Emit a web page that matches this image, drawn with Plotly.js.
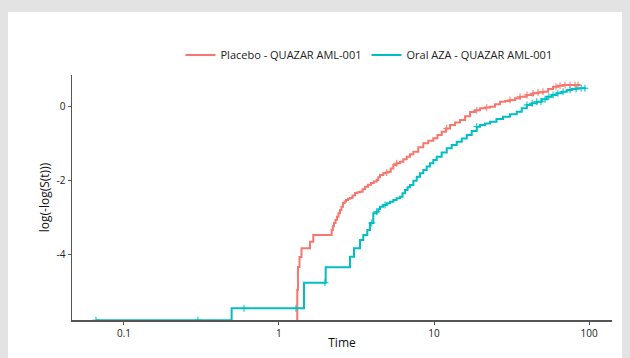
<!DOCTYPE html>
<html>
<head>
<meta charset="utf-8">
<script src="https://cdn.plot.ly/plotly-3.0.1.min.js"></script>
<style>html,body{margin:0;padding:0;background:#e3e3e3;}#chart{width:630px;height:358px;}</style>
</head>
<body>
<div id="chart"></div>
<script>
// -Inf (S(t)=1) is drawn at the lower panel edge, as ggplot does
const BOTTOM = -5.76;

const placeboTime = [1.306, 1.312, 1.326, 1.356, 1.397, 1.585, 1.664, 2.188, 2.226, 2.264, 2.315, 2.367, 2.42, 2.475, 2.53, 2.588, 2.65, 2.706, 2.79, 2.871, 2.98, 3.093, 3.21, 3.332, 3.46, 3.588, 3.75, 3.923, 4.09, 4.268, 4.37, 4.483, 4.709, 4.89, 5.073, 5.26, 5.464, 5.74, 6.034, 6.34, 6.667, 7.0, 7.355, 7.92, 8.531, 9.19, 9.897, 10.53, 11.21, 11.93, 12.69, 13.67, 14.72, 15.86, 17.08, 18.4, 19.81, 21.3, 22.98, 24.75, 26.66, 28.7, 30.93, 33.3, 35.88, 39.5, 43.52, 46.9, 50.49, 54.4, 58.58, 63.1, 67.96, 87.5];
const placeboValue = [BOTTOM, -4.946, -4.326, -4.057, -3.822, -3.644, -3.464, -3.329, -3.23, -3.140, -3.05, -2.970, -2.88, -2.790, -2.70, -2.601, -2.56, -2.520, -2.49, -2.466, -2.40, -2.332, -2.31, -2.296, -2.23, -2.162, -2.11, -2.062, -2.02, -1.981, -1.91, -1.846, -1.801, -1.78, -1.757, -1.67, -1.577, -1.53, -1.488, -1.42, -1.353, -1.29, -1.218, -1.10, -0.992, -0.92, -0.857, -0.77, -0.679, -0.59, -0.499, -0.43, -0.364, -0.26, -0.148, -0.10, -0.049, -0.03, -0.005, 0.06, 0.129, 0.15, 0.175, 0.22, 0.264, 0.31, 0.356, 0.38, 0.399, 0.47, 0.534, 0.56, 0.580, 0.580];
const placeboCensor = [4.953, 5.745, 12.08, 18.86, 21.88, 30.93, 35.88, 39.8, 43.52, 46.9, 50.49, 61.2, 65.0, 70.0, 75.4, 81.2, 84.9];

const azaTime = [0.066, 0.495, 1.450, 2.001, 2.871, 3.047, 3.332, 3.499, 3.713, 3.865, 4.058, 4.268, 4.37, 4.483, 4.71, 4.953, 5.2, 5.464, 5.74, 6.034, 6.26, 6.500, 6.75, 7.000, 7.36, 7.733, 8.12, 8.531, 8.97, 9.423, 9.9, 10.41, 11.2, 12.08, 13.0, 14.01, 15.1, 16.26, 17.5, 18.86, 19.81, 21.3, 22.98, 25.3, 27.87, 30.9, 34.17, 36.8, 39.64, 42.7, 45.98, 49.5, 53.35, 57.5, 61.89, 66.7, 71.80, 77.3, 83.28, 95.6];
const azaValue = [BOTTOM, -5.44, -4.749, -4.334, -4.049, -3.822, -3.598, -3.464, -3.329, -3.140, -2.879, -2.836, -2.77, -2.701, -2.655, -2.609, -2.565, -2.520, -2.475, -2.431, -2.34, -2.251, -2.18, -2.116, -2.00, -1.892, -1.80, -1.712, -1.62, -1.531, -1.44, -1.353, -1.24, -1.127, -1.04, -0.949, -0.86, -0.768, -0.66, -0.544, -0.499, -0.455, -0.410, -0.34, -0.275, -0.21, -0.140, -0.05, 0.040, 0.085, 0.129, 0.195, 0.264, 0.31, 0.356, 0.40, 0.445, 0.47, 0.491, 0.491];
const azaCensor = [0.066, 0.30, 0.595, 1.287, 1.98, 3.97, 4.27, 4.83, 18.86, 39.8, 43.0, 46.0, 49.0, 52.0, 55.0, 58.6, 63.0, 68.0, 75.4, 82.5, 88.9, 94.0];

const xTickVals = [0.1, 1, 10, 100];
const xTickText = ['0.1', '1', '10', '100'];
const yTickVals = [-4, -2, 0];
const yTickText = ['-4', '-2', '0'];

const RED = '#F8766D', TEAL = '#00BFC4';

function stepAt(times, values, t) {
  let v = values[0];
  for (let i = 0; i < times.length; i++) { if (times[i] <= t) v = values[i]; }
  return v;
}

const traces = [
  {x: placeboTime, y: placeboValue, type: 'scatter', mode: 'lines', line: {shape: 'hv', color: RED, width: 2}, name: 'Placebo - QUAZAR AML-001'},
  {x: azaTime, y: azaValue, type: 'scatter', mode: 'lines', line: {shape: 'hv', color: TEAL, width: 2}, name: 'Oral AZA - QUAZAR AML-001'},
  {x: placeboCensor, y: placeboCensor.map(t => stepAt(placeboTime, placeboValue, t)), type: 'scatter', mode: 'markers', marker: {symbol: 'cross-thin', size: 5, line: {color: RED, width: 1}}, showlegend: false, hoverinfo: 'skip'},
  {x: azaCensor, y: azaCensor.map(t => stepAt(azaTime, azaValue, t)), type: 'scatter', mode: 'markers', marker: {symbol: 'cross-thin', size: 5, line: {color: TEAL, width: 1}}, showlegend: false, hoverinfo: 'skip'}
];

const layout = {
  width: 630, height: 358,
  margin: {l: 72, r: 18, t: 75, b: 38},
  paper_bgcolor: '#e3e3e3',
  plot_bgcolor: 'white',
  font: {family: 'Open Sans, sans-serif', size: 10, color: '#222'},
  shapes: [{type: 'rect', xref: 'paper', yref: 'paper', x0: -0.1185, x1: 1.0185, y0: -0.2, y1: 1.257, fillcolor: 'white', line: {width: 0}, layer: 'below'}],
  xaxis: {
    type: 'log', range: [-1.335, 2.148],
    tickvals: xTickVals, ticktext: xTickText,
    showline: true, linecolor: '#555', linewidth: 1.5,
    ticks: 'outside', ticklen: 3, tickcolor: '#555', tickwidth: 1,
    showgrid: false, zeroline: false,
    tickfont: {size: 10, color: '#222'},
    title: {text: 'Time', font: {size: 12, color: '#111'}, standoff: 0}
  },
  yaxis: {
    range: [-5.755, 0.849],
    tickvals: yTickVals, ticktext: yTickText,
    showline: true, linecolor: '#555', linewidth: 1.5,
    ticks: 'outside', ticklen: 3, tickcolor: '#555', tickwidth: 1,
    showgrid: false, zeroline: false,
    tickfont: {size: 10, color: '#222'},
    title: {text: 'log(-log(S(t)))', font: {size: 12, color: '#111'}, standoff: 4}
  },
  showlegend: true,
  legend: {orientation: 'h', x: 0.55, xanchor: 'center', y: 1.082, yanchor: 'middle', font: {size: 11, color: '#222'}, bgcolor: 'rgba(0,0,0,0)', traceorder: 'normal'}
};

Plotly.newPlot('chart', traces, layout, {displayModeBar: false, staticPlot: true});
</script>
</body>
</html>
